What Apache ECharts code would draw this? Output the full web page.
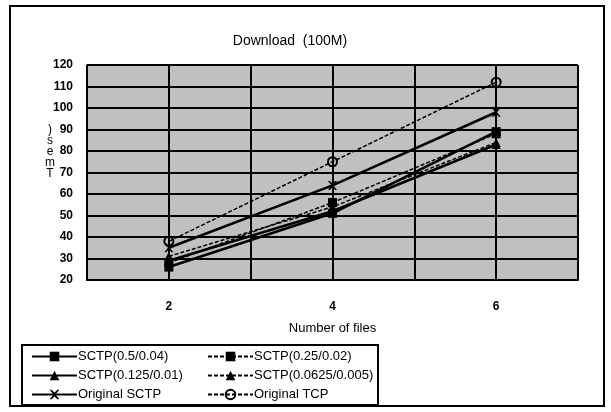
<!DOCTYPE html>
<html><head><meta charset="utf-8">
<script src="https://cdn.jsdelivr.net/npm/echarts@6/dist/echarts.min.js"></script>
<style>html,body{margin:0;padding:0;background:#fff}#c{width:611px;height:412px}</style>
</head><body><div id="c"></div>
<script>
const files = [2, 4, 6];
const xTickLabels = ['2', '4', '6'];
const sctp05 = [26, 51, 89];
const sctp025 = [28, 56, 88];
const sctp0125 = [29, 52, 83];
const sctp00625 = [31, 54, 84];
const origSCTP = [35, 64, 98];
const origTCP = [38, 75, 112];
const names = ['SCTP(0.5/0.04)', 'SCTP(0.25/0.02)', 'SCTP(0.125/0.01)', 'SCTP(0.0625/0.005)', 'Original SCTP', 'Original TCP'];
const values = [sctp05, sctp025, sctp0125, sctp00625, origSCTP, origTCP];
const symbols = ['rect', 'rect', 'triangle', 'triangle', 'path://M0,0L2,0L5,3L8,0L10,0L6,5L10,10L8,10L5,7L2,10L0,10L4,5Z', 'circle'];
const dashed = [false, true, false, true, false, true];

const font = 'Liberation Sans, Arial, sans-serif';
const chart = echarts.init(document.getElementById('c'), null, {renderer: 'canvas'});
const series = names.map((n, i) => ({
  name: n, type: 'line',
  data: files.map((f, j) => [f, values[i][j]]),
  symbol: symbols[i], symbolSize: 9,
  color: '#000',
  lineStyle: {color: '#000', width: dashed[i] ? 1.5 : 2.6, type: dashed[i] ? [4, 2] : 'solid'},
  itemStyle: {color: i === 5 ? 'rgba(192,192,192,0)' : '#000', borderColor: '#000', borderWidth: i === 5 ? 2 : 0},
  animation: false
}));
chart.setOption({
  animation: false,
  backgroundColor: '#fff',
  title: {text: 'Download  (100M)', left: 285, top: 29, textAlign: 'center',
    textStyle: {fontFamily: font, fontSize: 14, fontWeight: 'normal', color: '#000'}},
  grid: {left: 87, right: 33, top: 65, bottom: 132, show: true, backgroundColor: '#c0c0c0', borderColor: '#808080', borderWidth: 1},
  xAxis: {type: 'value', min: 1, max: 7, interval: 1,
    name: 'Number of files', nameLocation: 'middle', nameGap: 42,
    nameTextStyle: {fontFamily: font, fontSize: 13, color: '#000'},
    axisLine: {show: true, lineStyle: {color: '#000', width: 2}},
    axisTick: {show: false},
    axisLabel: {margin: 21, fontFamily: font, fontSize: 12, fontWeight: 'bold', color: '#000',
      formatter: v => xTickLabels.includes(String(v)) ? String(v) : ''},
    splitLine: {show: true, lineStyle: {color: '#000', width: 2}}},
  yAxis: {type: 'value', min: 20, max: 120, interval: 10,
    axisLine: {show: true, lineStyle: {color: '#000', width: 1.5}},
    axisTick: {show: false},
    axisLabel: {margin: 14, fontFamily: font, fontSize: 12, fontWeight: 'bold', color: '#000'},
    splitLine: {show: true, lineStyle: {color: '#000', width: 2}}},
  legend: [
    {data: [names[0], names[2], names[4]], orient: 'vertical', left: 26, top: 345, itemWidth: 45, itemHeight: 12, itemGap: 6,
      textStyle: {fontFamily: font, fontSize: 13, color: '#000', padding: [0, 0, 0, -4]}},
    {data: [names[1], names[3], names[5]], orient: 'vertical', left: 202, top: 345, itemWidth: 45, itemHeight: 12, itemGap: 6,
      textStyle: {fontFamily: font, fontSize: 13, color: '#000', padding: [0, 0, 0, -4]}}
  ],
  graphic: [
    {type: 'rect', shape: {x: 10, y: 6, width: 594, height: 400}, style: {fill: 'none', stroke: '#000', lineWidth: 2}, z: -1},
    {type: 'rect', shape: {x: 22, y: 345, width: 356, height: 60}, style: {fill: 'none', stroke: '#000', lineWidth: 2}},
    {type: 'text', x: 50, y: 124, style: {text: ')\ns\ne\nm\nT', fontFamily: font, fontSize: 12, lineHeight: 11, textAlign: 'center', fill: '#000'}}
  ],
  series: series
});
</script></body></html>
